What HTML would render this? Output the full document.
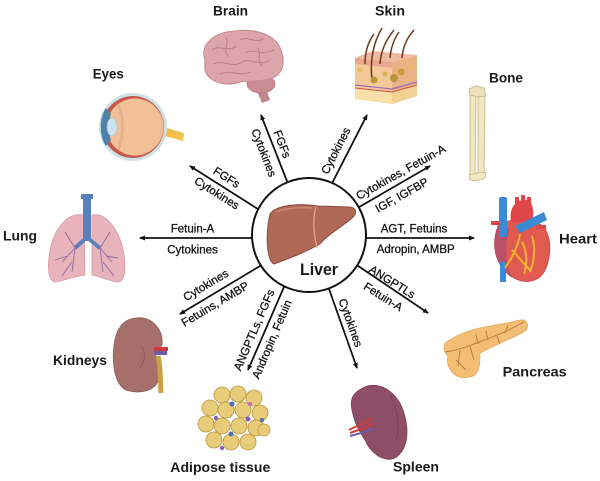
<!DOCTYPE html>
<html><head><meta charset="utf-8">
<style>
html,body{margin:0;padding:0;background:#fff;}
svg{display:block;}
text{font-family:"Liberation Sans",Arial,sans-serif;}
.l{font-size:11.5px;fill:#151515;stroke:#151515;stroke-width:0.3;text-anchor:middle;}
.o{font-size:14px;font-weight:bold;fill:#1a1a1a;text-anchor:middle;}
</style></head>
<body>
<svg width="600" height="481" viewBox="0 0 600 481" xmlns="http://www.w3.org/2000/svg">
<defs>
<marker id="a" markerWidth="8" markerHeight="8" refX="5" refY="2.5" orient="auto" markerUnits="userSpaceOnUse">
<path d="M0,0 L6,2.5 L0,5 z" fill="#111"/>
</marker>
</defs>
<rect width="600" height="481" fill="#fff"/>

<!-- connectors -->
<g stroke="#111" stroke-width="1.8" fill="none" marker-end="url(#a)">
<line x1="294" y1="199" x2="261" y2="115"/>
<line x1="325" y1="197" x2="367" y2="115"/>
<line x1="280" y1="223" x2="190" y2="166"/>
<line x1="335" y1="221" x2="430" y2="166"/>
<line x1="330" y1="238" x2="474" y2="238"/>
<line x1="330" y1="247" x2="428" y2="313"/>
<line x1="317" y1="255" x2="357" y2="368"/>
<line x1="297" y1="257" x2="248" y2="370"/>
<line x1="290" y1="248" x2="180" y2="314"/>
<line x1="290" y1="238" x2="140" y2="238"/>
</g>

<!-- liver circle -->
<circle cx="309" cy="235" r="57" fill="#fff" stroke="#111" stroke-width="2"/>
<path d="M270,214 C276,205 298,203 318,206 L350,207 C357,208 357,214 352,218 C342,227 328,234 320,244 C306,252 290,258 274,264 C267,261 265,236 270,214 Z" fill="#b06857" stroke="#8d4d40" stroke-width="1"/>
<path d="M276,212 C286,208 300,207 312,208" stroke="#c98a7a" stroke-width="1.5" fill="none"/>
<path d="M316,207 C312,220 314,235 317,248" stroke="#d9a595" stroke-width="1.3" fill="none"/>
<text x="319" y="275" style="font-size:17px;font-weight:bold;fill:#1a1a1a;text-anchor:middle" textLength="38" lengthAdjust="spacingAndGlyphs">Liver</text>

<!-- connector labels -->
<g>
<text class="l" transform="translate(282.3,144) rotate(68.8)" y="4">FGFs</text>
<text class="l" transform="translate(264,152.7) rotate(68.8)" y="4">Cytokines</text>
<text class="l" transform="translate(335.7,150.7) rotate(-63)" y="4">Cytokines</text>
<text class="l" transform="translate(226.7,177.3) rotate(32.2)" y="4">FGFs</text>
<text class="l" transform="translate(217,193) rotate(32.2)" y="4">Cytokines</text>
<text class="l" transform="translate(400.7,172) rotate(-29.3)" y="4">Cytokines, Fetuin-A</text>
<text class="l" transform="translate(401.7,195) rotate(-29.3)" y="4">IGF, IGFBP</text>
<text class="l" x="414" y="232.3">AGT, Fetuins</text>
<text class="l" x="415.7" y="253">Adropin, AMBP</text>
<text class="l" transform="translate(392.3,281.7) rotate(32.1)" y="4">ANGPTLs</text>
<text class="l" transform="translate(383.3,296.7) rotate(32.1)" y="4">Fetuin-A</text>
<text class="l" transform="translate(350.7,322.7) rotate(70.3)" y="4">Cytokines</text>
<text class="l" transform="translate(254,330) rotate(-66.9)" y="4">ANGPTLs, FGFs</text>
<text class="l" transform="translate(271.7,339.3) rotate(-66.9)" y="4">Andropin, Fetuin</text>
<text class="l" transform="translate(205.7,285) rotate(-30.9)" y="4">Cytokines</text>
<text class="l" transform="translate(215,304) rotate(-30.9)" y="4">Fetuins, AMBP</text>
<text class="l" x="192.5" y="232.3">Fetuin-A</text>
<text class="l" x="192.5" y="253.5">Cytokines</text>
</g>

<!-- organ labels -->
<text class="o" x="230.5" y="15.7" textLength="35" lengthAdjust="spacingAndGlyphs">Brain</text>
<text class="o" x="390" y="15.7" textLength="30" lengthAdjust="spacingAndGlyphs">Skin</text>
<text class="o" x="506" y="82.7" textLength="34" lengthAdjust="spacingAndGlyphs">Bone</text>
<text class="o" x="108.3" y="78.5" textLength="31" lengthAdjust="spacingAndGlyphs">Eyes</text>
<text class="o" x="20" y="240.5" textLength="34" lengthAdjust="spacingAndGlyphs">Lung</text>
<text class="o" x="578" y="243.3" textLength="38" lengthAdjust="spacingAndGlyphs">Heart</text>
<text class="o" x="534.7" y="376.7" textLength="64" lengthAdjust="spacingAndGlyphs">Pancreas</text>
<text class="o" x="80" y="365" textLength="54" lengthAdjust="spacingAndGlyphs">Kidneys</text>
<text class="o" x="220.3" y="472" textLength="100" lengthAdjust="spacingAndGlyphs">Adipose tissue</text>
<text class="o" x="416" y="471.5" textLength="46" lengthAdjust="spacingAndGlyphs">Spleen</text>

<!-- Brain -->
<g>
<path d="M252,80 L263,80 L270,100 L262,103 Z" fill="#c28890"/>
<ellipse cx="261" cy="84" rx="14" ry="9" fill="#c98c94" stroke="#b57a82" stroke-width="0.8"/>
<path d="M205,60 C199,45 214,32 235,31 C256,28 276,35 281,50 C286,63 282,75 272,78 C262,82 250,80 240,82 C230,86 217,84 210,78 C203,72 205,66 205,60 Z" fill="#dba5aa" stroke="#c48b92" stroke-width="1"/>
<path d="M212,50 C220,44 228,53 236,46 M240,40 C248,35 256,45 264,38 M213,64 C224,59 232,69 242,62 C250,57 258,67 270,60 M245,53 C252,48 262,56 274,50 M220,74 C230,69 240,77 250,72 M226,38 C230,44 222,50 228,56 M258,48 C262,54 256,60 262,66" stroke="#b97a82" stroke-width="0.9" fill="none"/>
</g>

<!-- Skin -->
<g>
<polygon points="355,58 372,51 417,55 392,62" fill="#f0b9a2"/>
<polygon points="392,62 417,55 417,96 392,104" fill="#eab386"/>
<polygon points="355,58 392,62 392,104 355,99" fill="#f4c99a"/>
<polygon points="355,58 392,62 392,68 355,64" fill="#e9a68e"/>
<polygon points="355,88 392,92 392,104 355,99" fill="#f8e0a8"/>
<polygon points="392,92 417,85 417,96 392,104" fill="#f2d195"/>
<path d="M355,85 L392,89 L417,82" stroke="#9a6ab0" stroke-width="1.2" fill="none"/>
<path d="M355,88 L392,92 L417,85" stroke="#d0504a" stroke-width="1" fill="none"/>
<path d="M372,80 C370,62 372,45 382,28 M380,64 C381,50 386,40 394,30 M390,58 C391,47 394,39 399,32 M402,58 C403,46 407,38 414,30 M365,64 C365,52 368,42 374,34" stroke="#6b3a1f" stroke-width="1.5" fill="none"/>
<circle cx="374" cy="80" r="3.5" fill="#b8983a"/>
<circle cx="394" cy="78" r="4" fill="#b8943a"/>
<circle cx="401" cy="72" r="3.5" fill="#c89e40"/>
<circle cx="385" cy="74" r="2.5" fill="#d8b050"/>
<circle cx="360" cy="70" r="2.5" fill="#e6c060"/>
<circle cx="410" cy="68" r="2.5" fill="#e6c060"/>
</g>

<!-- Bone -->
<g fill="#f2e7c3" stroke="#cbb985" stroke-width="0.9">
<path d="M470,93 L476,92 L475,175 L470,178 Z"/>
<path d="M478,94 L485,96 L484,172 L478,176 Z"/>
<path d="M469,89 L476,86 L484,88 L486,96 L478,97 L470,95 Z" fill="#ece0bd"/>
<path d="M469,175 L477,173 L486,172 L485,178 L476,181 L470,180 Z"/>
</g>

<!-- Eye -->
<g>
<path d="M167,128 L184,133 L183,141 L165,136 Z" fill="#f4c04a"/>
<circle cx="133" cy="127" r="34" fill="#cfe1e8"/>
<circle cx="133" cy="127" r="31" fill="#c45a4c"/>
<circle cx="135" cy="127" r="28.5" fill="#f2c096"/>
<path d="M106,108 C99,118 99,136 106,146 L111,140 C108,132 108,122 111,114 Z" fill="#4e82a6"/>
<ellipse cx="112" cy="127" rx="5" ry="9" fill="#cde2ec" stroke="#9fbccc" stroke-width="0.6"/>
<path d="M118,104 C124,118 124,136 118,150" stroke="#d9a98a" stroke-width="3" fill="none" opacity="0.6"/>
</g>

<!-- Lung -->
<g>
<path d="M84,215 C70,212 55,225 50,250 C47,268 48,282 56,282 C66,280 75,276 85,275 Z" fill="#e8b3bb" stroke="#d69ca6" stroke-width="0.8"/>
<path d="M92,215 C106,212 120,230 124,255 C126,270 125,282 117,282 C107,280 98,276 92,275 Z" fill="#e8b3bb" stroke="#d69ca6" stroke-width="0.8"/>
<rect x="83" y="197" width="8" height="44" fill="#5a80bd"/>
<rect x="81" y="194" width="12" height="5" fill="#5a80bd"/>
<path d="M84,240 L75,248 M90,240 L100,248" stroke="#5a80bd" stroke-width="4"/>
<path d="M75,248 L62,262 M75,248 L72,272 M68,256 L55,260 M72,262 L62,276 M100,248 L112,262 M100,248 L103,272 M106,256 L118,258 M103,262 L114,276 M65,232 L75,248 M110,232 L100,248" stroke="#8d6aa0" stroke-width="0.9" fill="none"/>
</g>

<!-- Kidney -->
<g>
<path d="M136,318 C152,316 164,330 162,345 C158,350 155,352 156,356 C160,362 163,372 158,382 C152,392 138,394 126,390 C114,384 112,362 114,345 C116,328 124,319 136,318 Z" fill="#a66f6a" stroke="#8e5a55" stroke-width="0.8"/>
<rect x="154" y="347" width="14" height="4" fill="#d13a3a"/>
<rect x="154" y="351" width="13" height="4" fill="#6a5ab0"/>
<path d="M158,356 C161,368 160,380 161,393" stroke="#c9a146" stroke-width="5" fill="none"/>
<path d="M140,345 C146,350 146,360 140,368" stroke="#8e5a55" stroke-width="1" fill="none"/>
</g>

<!-- Adipose -->
<g stroke="#b8963c" stroke-width="0.8" fill="#e9cc79">
<circle cx="222" cy="395" r="8"/>
<circle cx="238" cy="394" r="8"/>
<circle cx="254" cy="398" r="8"/>
<circle cx="210" cy="408" r="8"/>
<circle cx="226" cy="410" r="8"/>
<circle cx="243" cy="410" r="8"/>
<circle cx="260" cy="413" r="8"/>
<circle cx="206" cy="424" r="8"/>
<circle cx="222" cy="426" r="8"/>
<circle cx="239" cy="426" r="8"/>
<circle cx="256" cy="428" r="8"/>
<circle cx="214" cy="440" r="8"/>
<circle cx="231" cy="442" r="8"/>
<circle cx="248" cy="442" r="8"/>
<circle cx="264" cy="430" r="6"/>
</g>
<g>
<circle cx="232" cy="404" r="2.5" fill="#4a6fb5"/>
<circle cx="248" cy="419" r="2.5" fill="#8a5ab0"/>
<circle cx="216" cy="418" r="2.2" fill="#8a5ab0"/>
<circle cx="231" cy="434" r="2.5" fill="#4a6fb5"/>
<circle cx="250" cy="404" r="2" fill="#c76ac0"/>
<circle cx="222" cy="448" r="2.2" fill="#8a5ab0"/>
<circle cx="262" cy="420" r="2" fill="#4a6fb5"/>
</g>

<!-- Spleen -->
<g>
<path d="M361,389 C376,379 396,390 403,410 C410,430 408,450 395,458 C383,463 370,452 365,440 C360,432 355,425 352,410 C350,400 352,394 361,389 Z" fill="#8e4f66" stroke="#7a4058" stroke-width="0.8"/>
<path d="M349,430 C356,426 364,424 372,418 M350,433 C358,430 366,428 374,423" stroke="#d13a3a" stroke-width="2" fill="none"/>
<path d="M350,436 C358,434 366,432 374,428" stroke="#6a5ab0" stroke-width="2" fill="none"/>
<path d="M390,395 C398,410 400,425 396,440" stroke="#7a4058" stroke-width="1" fill="none"/>
</g>

<!-- Pancreas -->
<g>
<path d="M445,343 C458,334 470,330 480,328 C490,326 500,324 507,323 C514,322 520,319 524,320 C529,323 528,329 525,331 C518,335 512,338 507,340 C498,344 490,348 480,353 C480,362 480,372 473,376 C465,379 457,378 452,372 C447,366 447,360 448,356 C444,352 443,347 445,343 Z" fill="#f2be74" stroke="#e3a65a" stroke-width="0.8"/>
<path d="M445,352 C462,350 478,342 495,336 C505,332 515,327 524,322 M460,350 L458,366 M470,346 L474,360 M488,340 L486,331 M505,333 L508,325 M456,360 L466,370 M478,344 L476,334 M497,336 L500,344" stroke="#b57a38" stroke-width="0.9" fill="none"/>
</g>

<!-- Heart -->
<g>
<path d="M498,226 C491,245 494,265 514,278 C525,284 540,283 546,268 C552,252 551,236 543,226 C530,218 506,218 498,226 Z" fill="#e15a50" stroke="#c04448" stroke-width="0.8"/>
<path d="M498,226 C491,245 494,265 512,278 C505,262 504,245 510,228 Z" fill="#b8506a"/>
<path d="M511,222 C508,204 520,198 528,200 C534,204 534,214 532,222 Z" fill="#e0454a"/>
<rect x="515" y="197" width="4" height="10" fill="#e0454a"/>
<rect x="521" y="195" width="4" height="10" fill="#e0454a"/>
<rect x="527" y="197" width="4" height="10" fill="#e0454a"/>
<rect x="499" y="197" width="8" height="40" rx="2" fill="#3a8ad4"/>
<rect x="500" y="262" width="6" height="20" fill="#3a8ad4"/>
<path d="M515,226 L544,212 L547,220 L520,233 Z" fill="#3a8ad4"/>
<rect x="491" y="221" width="9" height="4" fill="#e0454a"/>
<rect x="536" y="225" width="10" height="4" fill="#e0454a"/>
<path d="M520,234 C518,247 512,258 505,268 M522,242 C527,252 528,262 524,274 M532,236 C536,248 534,262 530,272 M512,250 C518,256 522,262 530,270" stroke="#f4b030" stroke-width="2" fill="none"/>
</g>
</svg>
</body></html>
